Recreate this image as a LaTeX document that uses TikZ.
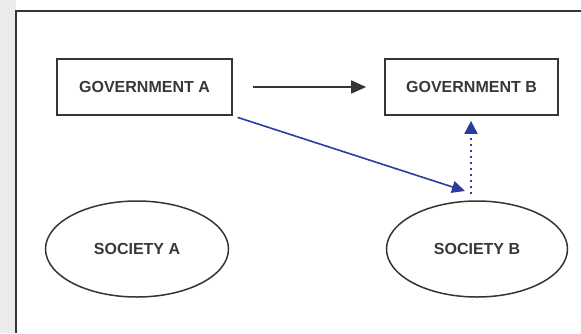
\documentclass[tikz,border=0pt]{standalone}
\usepackage{fontspec}
\setmainfont{Liberation Sans}
\usetikzlibrary{arrows.meta,shapes.geometric}
\definecolor{ink}{HTML}{353535}
\definecolor{txt}{HTML}{383838}
\definecolor{arrblue}{HTML}{2C3C9C}
\tikzset{
  govbox/.style={draw=ink, line width=1.7pt, rectangle, minimum width=175pt, minimum height=56pt, inner sep=0pt, font=\bfseries\fontsize{16}{18}\selectfont, text=txt},
  socell/.style={draw=ink, line width=1.5pt, ellipse, minimum width=183pt, minimum height=96pt, inner sep=0pt, font=\bfseries\fontsize{16}{18}\selectfont, text=txt},
  blackarr/.style={draw=ink, line width=1.7pt, -{Triangle[length=15pt,width=13pt]}},
  bluearr/.style={draw=arrblue, line width=1.6pt, -{Triangle[length=13pt,width=12pt]}},
  dotarr/.style={draw=arrblue, line width=1.8pt, dash pattern=on 2pt off 4pt, -{Triangle[length=13pt,width=13pt]}},
  framel/.style={draw=ink, line width=1.5pt}
}
\begin{document}
\begin{tikzpicture}[x=1pt,y=-1pt]
\useasboundingbox (0,0) rectangle (581,333);
\fill[white] (0,0) rectangle (581,333);
\fill[black!8] (0,0) rectangle (16,333);
\coordinate (fa) at (16,333);
\coordinate (fb) at (16,11);
\coordinate (fc) at (581,11);
\draw[framel] (fa) -- (fb) -- (fc);
\node[govbox] (gova) at (144.5,87) {GOVERNMENT A};
\node[govbox, minimum width=173pt] (govb) at (471.5,87) {GOVERNMENT B};
\node[socell] (soca) at (137,249) {SOCIETY A};
\node[socell, minimum width=181pt] (socb) at (477,249) {SOCIETY B};
\coordinate (bt) at (465,191);
\coordinate (ds) at (471,194);
\draw[blackarr, shorten <=20pt, shorten >=18pt] (gova.east) -- (govb.west);
\draw[bluearr, shorten <=5pt] (gova.south east) -- (bt);
\draw[dotarr, shorten >=5pt] (ds) -- (ds |- govb.south);
\end{tikzpicture}
\end{document}
